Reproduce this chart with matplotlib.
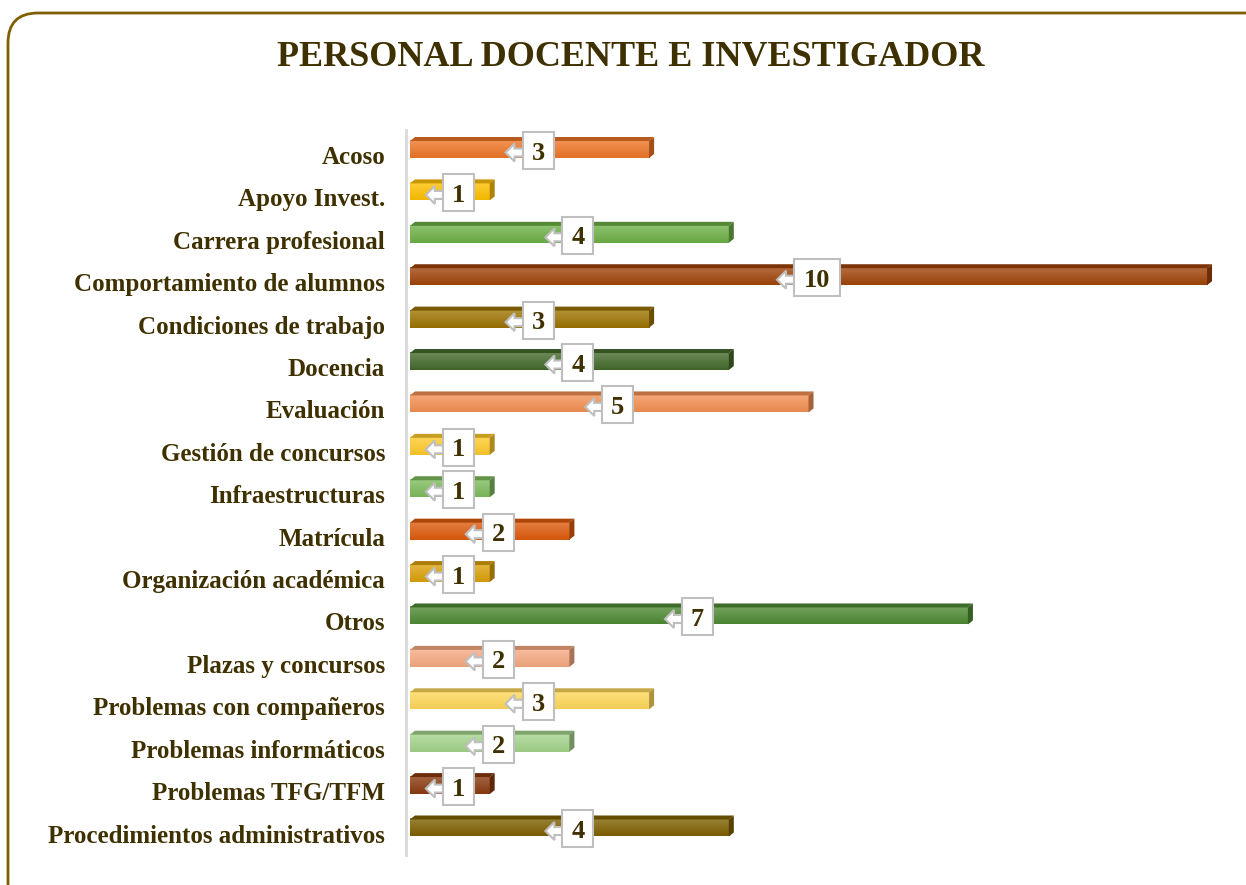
import numpy as np
import matplotlib.pyplot as plt
from matplotlib.patches import Polygon, Rectangle, FancyBboxPatch
from matplotlib.colors import to_rgb

plt.rcParams['font.family'] = ['Liberation Serif', 'DejaVu Serif']

titulo = "PERSONAL DOCENTE E INVESTIGADOR"

categorias = [
    "Acoso", "Apoyo Invest.", "Carrera profesional", "Comportamiento de alumnos",
    "Condiciones de trabajo", "Docencia", "Evaluación", "Gestión de concursos",
    "Infraestructuras", "Matrícula", "Organización académica", "Otros",
    "Plazas y concursos", "Problemas con compañeros", "Problemas informáticos",
    "Problemas TFG/TFM", "Procedimientos administrativos",
]
valores = [3, 1, 4, 10, 3, 4, 5, 1, 1, 2, 1, 7, 2, 3, 2, 1, 4]
colores = [
    "#EE7526", "#FFC000", "#6DB047", "#A0440A", "#9C7300", "#436A2A",
    "#F39052", "#FFCA2A", "#7DBC5C", "#DE5A0C", "#DCA10A", "#4E8A33",
    "#F6A982", "#FFD85A", "#A3D38A", "#8A3A0E", "#7F6000",
]

COLOR_TEXTO = "#3F3000"
COLOR_MARCO = "#7F6000"
GRIS = "#BFBFBF"

W, H = 1246, 885
fig = plt.figure(figsize=(W / 100, H / 100), dpi=100)

# marco redondeado del gráfico
fondo = fig.add_axes([0, 0, 1, 1], zorder=0)
fondo.set_xlim(0, W)
fondo.set_ylim(H, 0)
fondo.axis('off')
fondo.add_patch(FancyBboxPatch((8, 13), W + 30, H + 20,
                               boxstyle='round,pad=0,rounding_size=30',
                               fc='white', ec=COLOR_MARCO, lw=2))

fig.text(631 / W, 1 - 58 / H, titulo, ha='center', va='center',
         fontsize=26, fontweight='bold', color=COLOR_TEXTO)

# ejes principales (en píxeles)
izq, der, arr, aba = 406, 1215, 130, 855
ax = fig.add_axes([izq / W, 1 - aba / H, (der - izq) / W, (aba - arr) / H], zorder=1)
ax.patch.set_alpha(0)
xmin, xmax = -0.05, 10.1
n = len(categorias)
sx = (der - izq) / (xmax - xmin)
sy = 42.4
ymax = (n - 1) + 19.5 / sy
ymin = -27 / sy

def mezclar(c, f):
    c = np.array(to_rgb(c))
    return c + (1 - c) * f

def oscurecer(c, f):
    return np.array(to_rgb(c)) * f

ys = np.arange(n)[::-1]
h = 17 / sy
dx, dy = 5 / sx, 4 / sy
for yc, v, c in zip(ys, valores, colores):
    # cara frontal con degradado
    arriba = mezclar(c, 0.22)
    abajo = oscurecer(c, 0.95)
    t = np.linspace(0, 1, 40)[:, None]
    grad = (arriba[None, :] * (1 - t) + abajo[None, :] * t)[:, None, :]
    ax.imshow(grad, extent=(0, v, yc - h / 2, yc + h / 2), origin='upper',
              aspect='auto', zorder=2, interpolation='bilinear')
    # cara superior y lateral
    ax.add_patch(Polygon([(0, yc + h / 2), (dx, yc + h / 2 + dy), (v + dx, yc + h / 2 + dy),
                          (v, yc + h / 2)], closed=True, fc=oscurecer(c, 0.78), ec='none', zorder=2))
    ax.add_patch(Polygon([(v, yc - h / 2), (v + dx, yc - h / 2 + dy), (v + dx, yc + h / 2 + dy),
                          (v, yc + h / 2)], closed=True, fc=oscurecer(c, 0.68), ec='none', zorder=2))

    # etiqueta de datos con flecha
    bw = 31 if v < 10 else 46
    L = 17
    punta = v / 2 - (L + bw) / 2 / sx
    bx = punta + L / sx
    by = yc - 1 / sy
    ay = yc - 3 / sy
    flecha = [(punta, ay), (punta + 9 / sx, ay + 9 / sy), (punta + 9 / sx, ay + 4 / sy),
              (bx + 2 / sx, ay + 4 / sy), (bx + 2 / sx, ay - 4 / sy),
              (punta + 9 / sx, ay - 4 / sy), (punta + 9 / sx, ay - 9 / sy)]
    ax.add_patch(Polygon(flecha, closed=True, fc='white', ec=GRIS, lw=1.5, zorder=3))
    ax.add_patch(Rectangle((bx, by - 18.5 / sy), bw / sx, 37 / sy, fc='white', ec=GRIS,
                           lw=1.5, zorder=4))
    ax.text(bx + bw / 2 / sx, by, str(v), ha='center', va='center_baseline',
            fontsize=19, fontweight='bold', color=COLOR_TEXTO, zorder=5)

ax.set_xlim(xmin, xmax)
ax.set_ylim(ymin, ymax)
ax.set_xticks([])
ax.set_yticks(ys - 0.13)
ax.set_yticklabels(categorias, fontsize=18, fontweight='bold', color=COLOR_TEXTO)
ax.tick_params(axis='y', length=0, pad=15)
for s in ['top', 'right', 'bottom']:
    ax.spines[s].set_visible(False)
ax.spines['left'].set_color('#D9D9D9')
ax.spines['left'].set_linewidth(2)

fig.savefig('out.png', dpi=100)
